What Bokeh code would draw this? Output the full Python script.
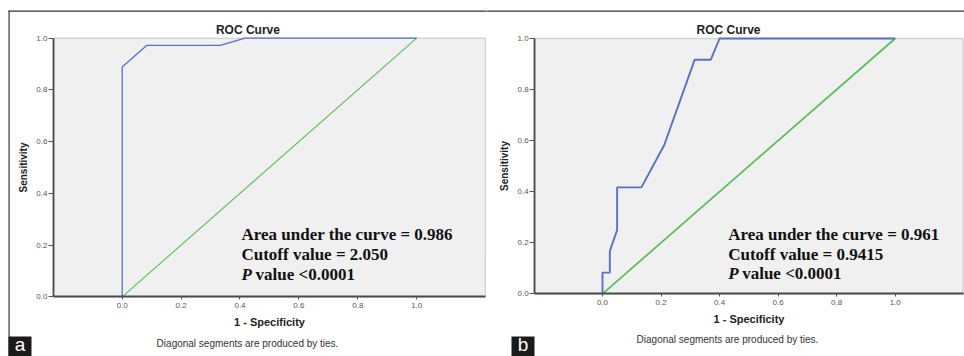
from bokeh.plotting import figure
from bokeh.layouts import row
from bokeh.models import Label, FixedTicker, BoxAnnotation, LinearAxis
from bokeh.embed import file_html
from bokeh.resources import INLINE

# ---- data ----
tick_vals = [0.0, 0.2, 0.4, 0.6, 0.8, 1.0]
tick_labels = ["0.0", "0.2", "0.4", "0.6", "0.8", "1.0"]

a_fpr = [0.0, 0.0, 0.083, 0.333, 0.417, 1.0]
a_tpr = [0.0, 0.889, 0.972, 0.972, 1.0, 1.0]

b_fpr = [0.0, 0.0, 0.025, 0.025, 0.05, 0.05, 0.133, 0.211, 0.315, 0.37, 0.4, 1.0]
b_tpr = [0.0, 0.083, 0.083, 0.167, 0.25, 0.417, 0.417, 0.583, 0.917, 0.917, 1.0, 1.0]

ref_x = [0.0, 1.0]
ref_y = [0.0, 1.0]

a_lines = ["Area under the curve = 0.986", "Cutoff value = 2.050", "value <0.0001"]
b_lines = ["Area under the curve = 0.961", "Cutoff value = 0.9415", "value <0.0001"]

BLUE = "#5b6ec8"
GREEN = "#55bf55"
BG = "#f0f0f0"
SANS = "Liberation Sans"
SERIF = "Liberation Serif"


def make_panel(width, xr, yr, area_x, fpr, tpr, lines, text_x, text_ys,
               title_xy, foot_xy, tag, tag_box, tag_xy, lw, top_y, line_px, left_x=None):
    p = figure(width=width, height=356, x_range=xr, y_range=yr,
               output_backend="svg", toolbar_location=None,
               x_axis_location=None, y_axis_location=None,
               min_border_left=0, min_border_right=0,
               min_border_top=0, min_border_bottom=0)
    p.background_fill_color = "white"
    p.border_fill_color = "white"
    p.outline_line_color = None
    p.grid.visible = False

    # plot area (grey box with border)
    p.add_layout(BoxAnnotation(left=area_x[0], right=area_x[1], bottom=0, top=1,
                               fill_color=BG, fill_alpha=1.0, line_color="#858585",
                               line_width=1.5, level="underlay"))

    xaxis = LinearAxis(fixed_location=0, bounds=(area_x[0], area_x[1]))
    yaxis = LinearAxis(fixed_location=area_x[0], bounds=(0, 1))
    p.add_layout(xaxis, "below")
    p.add_layout(yaxis, "left")
    for ax in (xaxis, yaxis):
        ax.ticker = FixedTicker(ticks=tick_vals)
        ax.major_label_overrides = dict(zip(tick_vals, tick_labels))
        ax.minor_tick_line_color = None
        ax.major_tick_in = 0
        ax.major_tick_line_color = "#555555"
        ax.axis_line_color = "#4a4a4a"
        ax.axis_line_width = 1.8
        ax.major_label_text_font = SANS
        ax.major_label_text_font_size = "8px"
        ax.major_label_text_color = "#555555"
        ax.axis_label_text_font = SANS
        ax.axis_label_text_font_style = "bold"
        ax.axis_label_text_color = "#222222"
    yaxis.major_tick_out = 5
    yaxis.major_label_standoff = 1
    xaxis.major_tick_out = 3
    xaxis.major_label_standoff = 3
    yaxis.axis_label = "Sensitivity"
    yaxis.axis_label_text_font_size = "10px"
    yaxis.axis_label_standoff = 4
    xaxis.axis_label = "1 - Specificity"
    xaxis.axis_label_text_font_size = "11px"
    xaxis.axis_label_standoff = 5

    p.line(ref_x, ref_y, line_color=GREEN, line_width=lw[1])
    p.line(fpr, tpr, line_color=BLUE, line_width=lw[0])

    for i, t in enumerate(lines):
        if i == 2:
            p.add_layout(Label(x=text_x, y=text_ys[i], text="P", text_font=SERIF,
                               text_font_style="bold italic", text_font_size="17px",
                               text_baseline="middle", text_color="#111111"))
            p.add_layout(Label(x=text_x, y=text_ys[i], x_offset=14, text=t, text_font=SERIF,
                               text_font_style="bold", text_font_size="17px",
                               text_baseline="middle", text_color="#111111"))
        else:
            p.add_layout(Label(x=text_x, y=text_ys[i], text=t, text_font=SERIF,
                               text_font_style="bold", text_font_size="17px",
                               text_baseline="middle", text_color="#111111"))

    p.add_layout(Label(x=title_xy[0], y=title_xy[1], text="ROC Curve", text_font=SANS,
                       text_font_style="bold", text_font_size="12px", text_align="center",
                       text_baseline="middle", text_color="#222222"))
    p.add_layout(Label(x=foot_xy[0], y=foot_xy[1], text="Diagonal segments are produced by ties.",
                       text_font=SANS, text_font_size="10px", text_align="center",
                       text_baseline="middle", text_color="#333333"))

    # outer border lines of the composite image
    x_start = left_x[0] if left_x is not None else xr[0] - 0.1
    p.add_layout(BoxAnnotation(left=x_start, right=xr[1] + 0.1, top=top_y, bottom=top_y - line_px,
                               fill_color="#333333", fill_alpha=1.0, line_color=None))
    if left_x is not None:
        p.add_layout(BoxAnnotation(left=left_x[0], right=left_x[1], top=top_y, bottom=yr[0] - 0.1,
                                   fill_color="#333333", fill_alpha=1.0, line_color=None))

    p.add_layout(BoxAnnotation(left=tag_box[0], right=tag_box[1], top=tag_box[2], bottom=tag_box[3],
                               fill_color="#1a1a1a", fill_alpha=1.0, line_color=None))
    p.add_layout(Label(x=tag_xy[0], y=tag_xy[1], text=tag, text_font=SANS, text_font_size="19px",
                       text_align="center", text_baseline="middle", text_color="white"))
    return p


pa = make_panel(486, (-0.41324, 1.23701), (-0.23086, 1.14578), (-0.2333, 1.2336),
                a_fpr, a_tpr, a_lines, 0.405, [0.241, 0.1636, 0.0862],
                (0.427, 1.0336), (0.4255, -0.1806),
                "a", (-0.386, -0.308, -0.1535, -0.3), (-0.347, -0.186),
                (1.3, 1.1), 1.1071, 0.0046, left_x=(-0.3861, -0.3821))
pb = make_panel(478, (-0.39631, 1.23676), (-0.24559, 1.14884), (-0.2316, 1.2323),
                b_fpr, b_tpr, b_lines, 0.4294, [0.232, 0.154, 0.0787],
                (0.4305, 1.035), (0.427, -0.180),
                "b", (-0.3109, -0.2323, -0.1673, -0.3), (-0.2716, -0.200),
                (1.9, 1.7), 1.1097, 0.0047)

layout = row(pa, pb, spacing=0)
open("out.html", "w").write(file_html(layout, INLINE))
